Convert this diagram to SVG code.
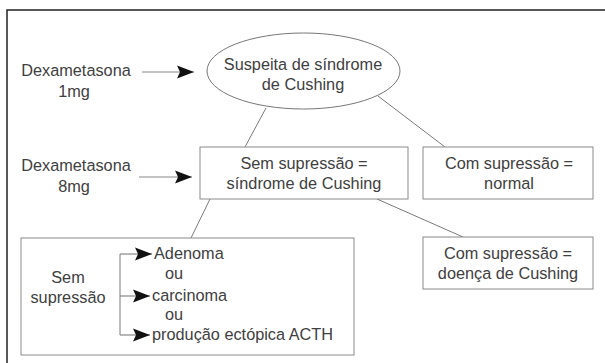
<svg xmlns="http://www.w3.org/2000/svg" width="605" height="363" viewBox="0 0 605 363">
  <style>
    text { font-family: "Liberation Sans", Arial, sans-serif; font-size: 16.3px; fill: #404040; }
    .c { text-anchor: middle; }
    .box { fill: #fff; stroke: #8a8a8a; stroke-width: 1; }
    .link { stroke: #7a7a7a; stroke-width: 1; fill: none; }
    .arr { stroke: #888; stroke-width: 1.2; fill: none; marker-end: url(#ah); }
  </style>
  <defs>
    <marker id="ah" markerUnits="userSpaceOnUse" markerWidth="18" markerHeight="14" refX="17" refY="7" orient="auto">
      <path d="M0,0.5 L17,7 L0,13.5 L3,7 Z" fill="#111"/>
    </marker>
  </defs>
  <rect width="605" height="363" fill="#fff"/>
  <path d="M7,363 V10 H605" fill="none" stroke="#222" stroke-width="1.5"/>

  <g id="connectors">
    <line class="link" x1="266" y1="108" x2="245" y2="147"/>
    <line class="link" x1="378" y1="96" x2="445" y2="147"/>
    <line class="link" x1="210" y1="199" x2="191" y2="238"/>
    <line class="link" x1="377" y1="199" x2="463" y2="237"/>
    <line class="arr" x1="142" y1="72" x2="194" y2="72"/>
    <line class="arr" x1="139" y1="177" x2="192" y2="177"/>
  </g>

  <g id="dex1">
    <text class="c" x="76" y="76">Dexametasona</text>
    <text class="c" x="74" y="97">1mg</text>
  </g>
  <g id="dex8">
    <text class="c" x="76" y="171">Dexametasona</text>
    <text class="c" x="74" y="192">8mg</text>
  </g>

  <g id="suspeita">
    <ellipse cx="303.5" cy="71" rx="96.5" ry="38" fill="#fff" stroke="#777" stroke-width="1"/>
    <text class="c" x="303" y="70">Suspeita de síndrome</text>
    <text class="c" x="303" y="90">de Cushing</text>
  </g>

  <g id="sem-supressao">
    <rect class="box" x="200" y="147" width="208" height="52"/>
    <text class="c" x="304" y="169">Sem supressão =</text>
    <text class="c" x="304" y="189">síndrome de Cushing</text>
  </g>

  <g id="com-normal">
    <rect class="box" x="423" y="147" width="170" height="52"/>
    <text class="c" x="509" y="169">Com supressão =</text>
    <text class="c" x="509" y="189">normal</text>
  </g>

  <g id="com-doenca">
    <rect class="box" x="423" y="237" width="170" height="52"/>
    <text class="c" x="508" y="259">Com supressão =</text>
    <text class="c" x="508" y="279">doença de Cushing</text>
  </g>

  <g id="sem-causas">
    <rect class="box" x="21" y="238" width="333" height="117"/>
    <text class="c" x="68" y="283">Sem</text>
    <text class="c" x="68" y="303">supressão</text>
    <path class="link" d="M120,254 V335" stroke="#888"/>
    <line class="arr" x1="120" y1="254" x2="152" y2="254"/>
    <line class="arr" x1="120" y1="296" x2="150" y2="296"/>
    <line class="arr" x1="120" y1="335" x2="150" y2="335"/>
    <text x="154" y="259">Adenoma</text>
    <text class="c" x="174" y="279">ou</text>
    <text x="152" y="301">carcinoma</text>
    <text class="c" x="174" y="320">ou</text>
    <text x="152" y="340">produção ectópica ACTH</text>
  </g>
</svg>
